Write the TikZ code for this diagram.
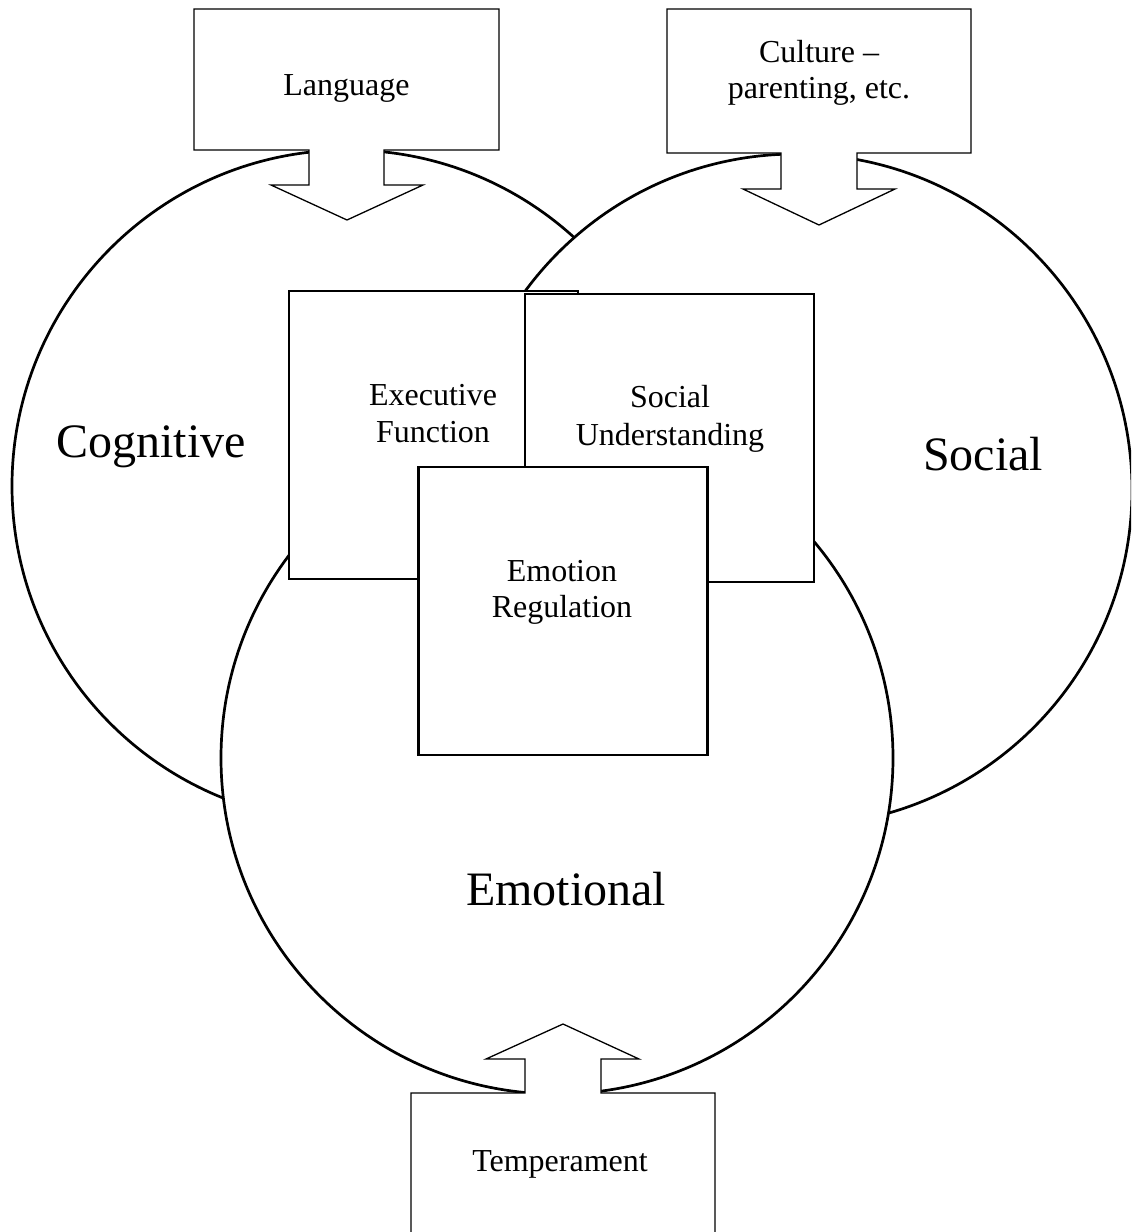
\documentclass[tikz,border=0pt]{standalone}
\usepackage{fontspec}
\setmainfont{Liberation Serif}
\begin{document}
\begin{tikzpicture}[x=0.5pt,y=-0.5pt,
  circ/.style={draw, fill=white, circle, line width=1.35pt, minimum size=336pt, inner sep=0pt},
  sqbox/.style={draw, fill=white, rectangle, line width=1.3pt, minimum width=144.5pt, minimum height=144pt, inner sep=0pt},
  callout/.style={draw, fill=white, line width=0.65pt, line join=miter},
  small/.style={font=\fontsize{16pt}{19pt}\selectfont, anchor=base, inner sep=0pt},
  big/.style={font=\fontsize{24pt}{29pt}\selectfont, anchor=base, inner sep=0pt}]
\useasboundingbox (0,0) rectangle (1131,1232);
\clip (0,0) rectangle (1131,1232);
\fill[white] (0,0) rectangle (1131,1232);
% domains
\node[circ] (cog) at (348,486) {};
\node[circ] (soc) at (796,490) {};
\node[circ] (emo) at (557,758) {};
% inner boxes
\node[sqbox] (ef) at (433.5,435) {};
\node[sqbox] (su) at (669.5,438) {};
\node[sqbox] (er) at (563,611) {};
% callouts
\path[callout] (194,9) -- (499,9) -- (499,150) -- (384,150) -- (384,185) -- (423,185)
  -- (347,220) -- (271,185) -- (309,185) -- (309,150) -- (194,150) -- cycle;
\path[callout] (667,9) -- (971,9) -- (971,153) -- (857,153) -- (857,189) -- (895,189)
  -- (819,225) -- (743,189) -- (781,189) -- (781,153) -- (667,153) -- cycle;
\path[callout] (411,1240) -- (411,1093) -- (525,1093) -- (525,1059) -- (486,1059)
  -- (563,1024) -- (639,1059) -- (601,1059) -- (601,1093) -- (715,1093) -- (715,1240) -- cycle;
% texts
\node[small] (tlang) at (346.5,95) {Language};
\node[small] (tcult1) at (819,62) {Culture –};
\node[small] (tcult2) at (819,98) {parenting, etc.};
\node[big] (tcog) at (151,457) {Cognitive};
\node[big] (tsoc) at (983,470) {Social};
\node[big] (temo) at (566,905) {Emotional};
\node[small] (tef1) at (433,405) {Executive};
\node[small] (tef2) at (433,442) {Function};
\node[small] (tsu1) at (670,407) {Social};
\node[small] (tsu2) at (670,445) {Understanding};
\node[small] (ter1) at (562,581) {Emotion};
\node[small] (ter2) at (562,617) {Regulation};
\node[small] (ttemp) at (560,1171) {Temperament};
\end{tikzpicture}
\end{document}
